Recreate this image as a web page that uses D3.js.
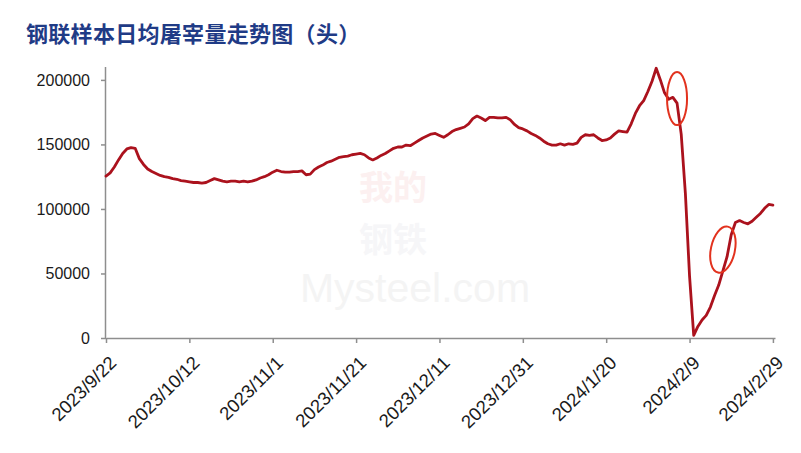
<!DOCTYPE html>
<html><head><meta charset="utf-8">
<script src="https://cdn.jsdelivr.net/npm/d3@7"></script>
<style>body{margin:0;background:#fff} svg{display:block}</style>
</head><body><svg id="c" width="801" height="453"></svg>
<script>
const title = "钢联样本日均屠宰量走势图（头）";
const startDate = "2023/9/22";
// daily slaughter volume (heads), one value per day from 2023/9/22
const values = [
125500,128000,132500,138000,143000,146500,147500,147000,139000,134500,
131000,129000,127500,126000,125000,124500,123500,123000,122000,121500,
121000,120500,120500,120000,120500,122000,123500,122500,121500,121000,
121500,121500,121000,121500,121000,121500,122500,124000,125000,126500,
128500,130000,129000,128500,128500,129000,129000,129500,126500,127000,
130500,132500,134000,136000,137000,138500,140000,140500,141000,142000,
142500,143000,142000,139500,138000,139500,141500,143000,145000,147000,
148000,148000,149500,149000,151000,153000,155000,156500,158000,158500,
157000,155500,157500,160000,161500,162500,163500,166000,170000,172000,
170500,168500,171000,171000,170500,170500,171000,169000,165500,163000,
162000,160500,158500,157000,155000,152500,150500,149500,149500,150500,
149500,150500,150000,151000,155500,157500,157000,157500,155000,153000,
153500,155000,158000,160500,160000,159500,166000,174000,180000,184000,
191000,199000,209000,200000,190000,185000,186500,182000,158000,112000,
48000,2000,9000,14000,17500,24000,33000,41000,52000,63000,
80000,89500,91000,89500,88500,90500,93500,96500,100500,103500,
103000
];
const xTickLabels = ["2023/9/22","2023/10/12","2023/11/1","2023/11/21","2023/12/11","2023/12/31","2024/1/20","2024/2/9","2024/2/29"];
const yTicks = [0,50000,100000,150000,200000];
const yMax = 210000;
// highlighted spots (date, value)
const markerDates = ["2024/2/6","2024/2/17"];
const markerValues = [185500,68500];

const parse = d3.timeParse("%Y/%m/%d");
const t0 = parse(startDate);
const data = values.map((v,i)=>({date:d3.timeDay.offset(t0,i), value:v}));
const tickDates = xTickLabels.map(parse);
const lastDate = data[data.length-1].date;

const svg = d3.select("#c");
const mL=106, mR=775, mT=67, mB=338;

const x = d3.scaleTime().domain([t0, d3.timeHour.offset(lastDate,12)]).range([mL,mR]);
const y = d3.scaleLinear().domain([0,yMax]).range([mB,mT]);

// watermark
const wm = svg.append("g").attr("pointer-events","none");
wm.append("text").attr("x",393).attr("y",200).attr("text-anchor","middle")
  .attr("font-family","Noto Sans CJK SC").attr("font-weight","bold").attr("font-size",34)
  .attr("fill","#fcf0f0").text("我的");
wm.append("text").attr("x",393).attr("y",252).attr("text-anchor","middle")
  .attr("font-family","Noto Sans CJK SC").attr("font-weight","bold").attr("font-size",34)
  .attr("fill","#f6f6f8").text("钢铁");
wm.append("text").attr("x",415).attr("y",302).attr("text-anchor","middle")
  .attr("font-family","Liberation Sans").attr("font-size",41)
  .attr("fill","#f4f4f4").text("Mysteel.com");

// title
svg.append("text").attr("x",26).attr("y",42)
  .attr("font-family","Noto Sans CJK SC").attr("font-weight","bold").attr("font-size",22)
  .attr("letter-spacing",0.3)
  .attr("fill","#1f3b86").text(title);

// y axis
const yAxis = svg.append("g").attr("transform",`translate(${mL},0)`)
  .call(d3.axisLeft(y).tickValues(yTicks).tickFormat(d3.format("d")).tickSize(5).tickPadding(11));
yAxis.select(".domain").attr("d",`M-0.5,${mB}V${mT}`);
// x axis
const xAxis = svg.append("g").attr("transform",`translate(0,${mB})`)
  .call(d3.axisBottom(x).tickValues(tickDates).tickFormat((d,i)=>xTickLabels[i]).tickSize(5).tickSizeOuter(0));
xAxis.selectAll("text").attr("x",0).attr("y",0).attr("dy",0)
  .attr("text-anchor","end").attr("transform","translate(11,26) rotate(-45)");

[yAxis,xAxis].forEach(a=>{
  a.selectAll(".domain,line").attr("stroke","#8e8e8e").attr("stroke-width",1.5);
  a.selectAll("text").attr("font-family","Liberation Sans").attr("font-size",16).attr("fill","#1a1a1a");
});
xAxis.selectAll("text").attr("font-size",18.5);

// line
svg.append("path").datum(data)
  .attr("fill","none").attr("stroke","#ab121d").attr("stroke-width",2.8)
  .attr("stroke-linejoin","round").attr("stroke-linecap","round")
  .attr("d",d3.line().x(d=>x(d.date)).y(d=>y(d.value)));

// annotation ellipses
const ellSize = [[10,26.5,0],[12,23.5,12]];
markerDates.forEach((d,i)=>{
  const cx = x(parse(d)), cy = y(markerValues[i]);
  svg.append("ellipse").attr("cx",0).attr("cy",0)
    .attr("rx",ellSize[i][0]).attr("ry",ellSize[i][1])
    .attr("transform",`translate(${cx},${cy}) rotate(${ellSize[i][2]})`)
    .attr("fill","none").attr("stroke","#e2321e").attr("stroke-width",2);
});
</script></body></html>
